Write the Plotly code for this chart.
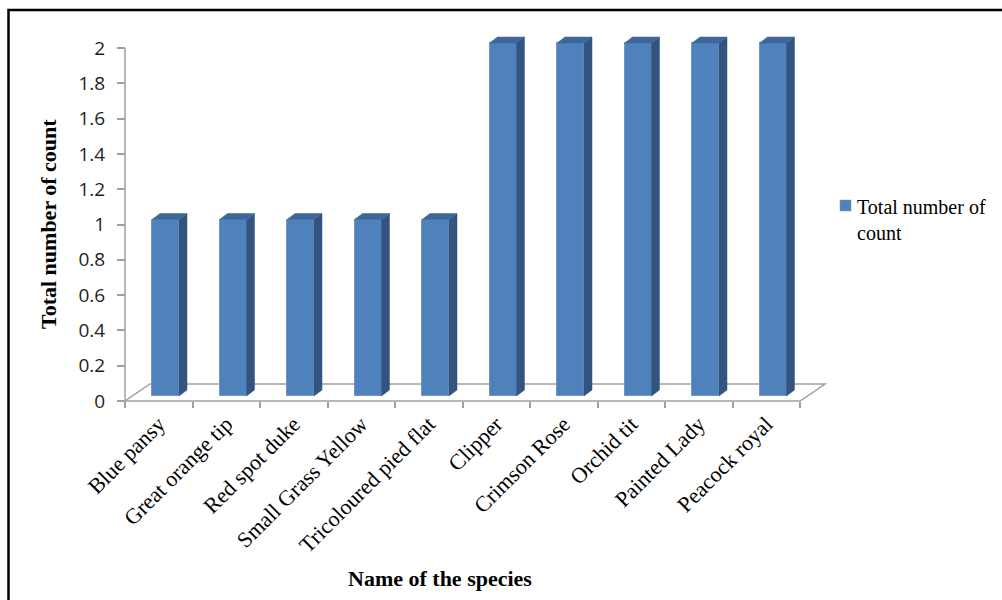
import plotly.graph_objects as go

# ---- data -------------------------------------------------------------
species = ["Blue pansy", "Great orange tip", "Red spot duke", "Small Grass Yellow",
           "Tricoloured pied flat", "Clipper", "Crimson Rose", "Orchid tit",
           "Painted Lady", "Peacock royal"]
counts = [1, 1, 1, 1, 1, 2, 2, 2, 2, 2]
y_tickvals = [0, 0.2, 0.4, 0.6, 0.8, 1, 1.2, 1.4, 1.6, 1.8, 2]
y_ticktext = ["0", "0.2", "0.4", "0.6", "0.8", "1", "1.2", "1.4", "1.6", "1.8", "2"]
series_name = "Total number of<br>count"
x_title = "Name of the species"
y_title = "Total number of count"

# ---- page geometry (pixels) -------------------------------------------
W, H = 1002, 600
PL, PR, PT, PB = 121, 834, 28, 405       # plot area edges
X0_PX, Y0_PX = 125, 401                  # where the front-left floor corner sits
CAT_PX, VAL_PX = 67.5, 176.5             # one category / one unit of value

# 3-D look, expressed in axis units
FLOOR_DX, FLOOR_DY = 25 / CAT_PX, 17 / VAL_PX
BAR_W = 0.4
BAR_SHIFT = 6.75 / CAT_PX                # bars sit a little back into the floor
BAR_LIFT = 5 / VAL_PX
DEPTH_DX, DEPTH_DY = 8 / CAT_PX, 6 / VAL_PX

FRONT = "#4F81BD"
SIDE = "#32547F"
TOP = "#3D6799"
FLOOR_LINE = "#A0A0A0"

x_range = [-0.5 - (X0_PX - PL) / CAT_PX, -0.5 + (PR - X0_PX) / CAT_PX]
y_range = [-(PB - Y0_PX) / VAL_PX, (Y0_PX - PT) / VAL_PX]
n = len(species)
idx = list(range(n))


def px_x(p):
    return (p - PL) / (PR - PL)


def px_y(p):
    return (PB - p) / (PB - PT)


fig = go.Figure()
fig.add_trace(go.Bar(
    x=idx, y=counts, base=BAR_LIFT, width=BAR_W, offset=BAR_SHIFT - BAR_W / 2,
    marker=dict(color=FRONT, line=dict(color="#7096C6", width=1)),
    name=series_name, showlegend=False, hoverinfo="skip",
))

shapes = []
# floor of the 3-D plot
fx0, fx1 = -0.5, n - 0.5
shapes.append(dict(
    type="path", xref="x", yref="y", layer="below",
    path=f"M{fx0},0 L{fx1},0 L{fx1 + FLOOR_DX},{FLOOR_DY} L{fx0 + FLOOR_DX},{FLOOR_DY} Z",
    fillcolor="white", line=dict(color=FLOOR_LINE, width=1.5),
))

# side and top faces of each column
for i, v in zip(idx, counts):
    xl = i + BAR_SHIFT - BAR_W / 2
    xr = i + BAR_SHIFT + BAR_W / 2
    b = BAR_LIFT
    t = BAR_LIFT + v
    shapes.append(dict(
        type="path", xref="x", yref="y", layer="above",
        path=f"M{xr},{b} L{xr + DEPTH_DX},{b + DEPTH_DY} L{xr + DEPTH_DX},{t + DEPTH_DY} L{xr},{t} Z",
        fillcolor=SIDE, line=dict(color=SIDE, width=0.5),
    ))
    shapes.append(dict(
        type="path", xref="x", yref="y", layer="above",
        path=f"M{xl},{t} L{xl + DEPTH_DX},{t + DEPTH_DY} L{xr + DEPTH_DX},{t + DEPTH_DY} L{xr},{t} Z",
        fillcolor=TOP, line=dict(color=TOP, width=0.5),
    ))

# value axis line
shapes.append(dict(
    type="line", xref="paper", yref="paper",
    x0=px_x(X0_PX), x1=px_x(X0_PX),
    y0=px_y(Y0_PX), y1=px_y(Y0_PX - max(y_tickvals) * VAL_PX),
    line=dict(color=FLOOR_LINE, width=1.5),
))

# legend key
shapes.append(dict(
    type="rect", xref="paper", yref="paper",
    x0=px_x(840), x1=px_x(851), y0=px_y(200), y1=px_y(211),
    fillcolor=FRONT, line=dict(color="#7096C6", width=0.5),
))

# outer frame
shapes.append(dict(
    type="rect", xref="paper", yref="paper",
    x0=px_x(8.5), x1=px_x(1012), y0=px_y(10), y1=px_y(612),
    line=dict(color="black", width=2.5), fillcolor="rgba(0,0,0,0)",
))

serif = "Times New Roman, Liberation Serif, serif"

fig.update_layout(
    width=W, height=H,
    margin=dict(l=PL, r=W - PR, t=PT, b=H - PB, pad=0),
    paper_bgcolor="white", plot_bgcolor="white",
    shapes=shapes,
    bargap=0,
    showlegend=False,
    xaxis=dict(
        range=x_range, anchor="free", position=(PB - Y0_PX) / (PB - PT),
        tickmode="array", tickvals=idx, ticktext=species, tickangle=-45,
        ticks="", showgrid=False, zeroline=False, showline=False,
        ticklabelstandoff=5,
        tickfont=dict(family=serif, size=22, color="black"),
        minor=dict(tickmode="array", tickvals=[i - 0.5 for i in range(n + 1)],
                   ticks="outside", ticklen=6, tickwidth=1.5, tickcolor=FLOOR_LINE,
                   showgrid=False),
    ),
    yaxis=dict(
        range=y_range, anchor="free", position=px_x(X0_PX),
        tickmode="array", tickvals=y_tickvals, ticktext=y_ticktext,
        ticks="outside", ticklen=8, tickwidth=1.5, tickcolor=FLOOR_LINE,
        ticklabelstandoff=8,
        showgrid=False, zeroline=False, showline=False,
        tickfont=dict(family="Open Sans, sans-serif", size=19, color="#1e1e1e"),
    ),
    annotations=[
        dict(text=series_name, showarrow=False, align="left",
             xref="paper", yref="paper", x=px_x(855), y=px_y(194),
             xanchor="left", yanchor="top",
             font=dict(family=serif, size=20, color="black")),
        dict(text=f"<b>{y_title}</b>", textangle=-90, showarrow=False,
             xref="paper", yref="paper", x=px_x(48), y=px_y(224),
             xanchor="center", yanchor="middle",
             font=dict(family=serif, size=22, color="black")),
        dict(text=f"<b>{x_title}</b>", showarrow=False,
             xref="paper", yref="paper", x=px_x(440), y=px_y(578),
             xanchor="center", yanchor="middle",
             font=dict(family=serif, size=22, color="black")),
    ],
)

fig.write_html("out.html")
